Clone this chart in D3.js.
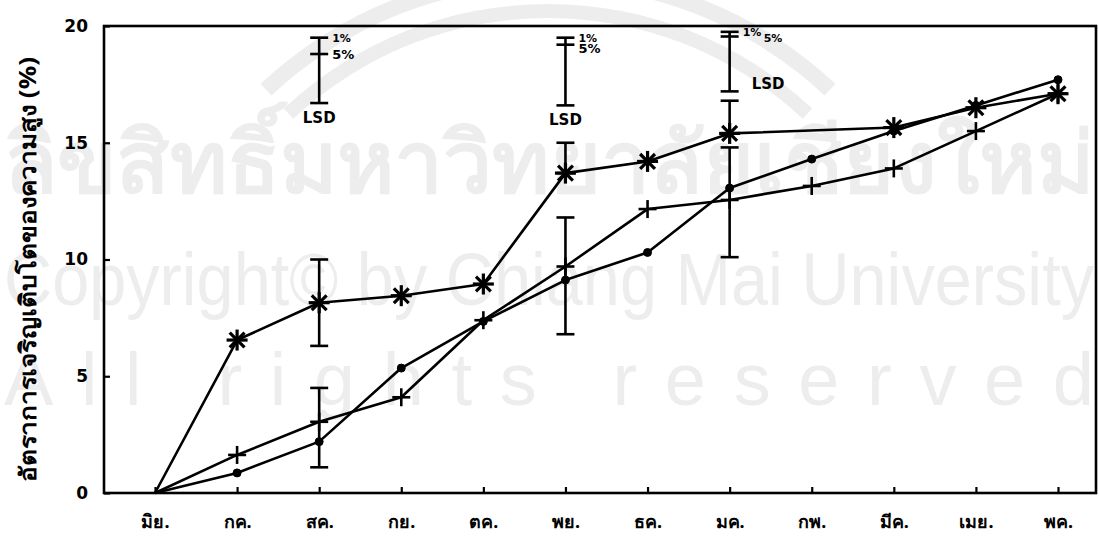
<!DOCTYPE html>
<html>
<head>
<meta charset="utf-8">
<script src="https://cdn.jsdelivr.net/npm/d3@7"></script>
<style>
  html, body { margin: 0; padding: 0; background: #fff; }
  svg { display: block; }
</style>
</head>
<body>
<svg id="chart" width="1099" height="545"></svg>
<script>
// Months (June to May)
const months = ["มิย.", "กค.", "สค.", "กย.", "ตค.", "พย.", "ธค.", "มค.", "กพ.", "มีค.", "เมย.", "พค."];

// Height growth rate (%) for the three treatments
const seriesStar = [0, 6.55, 8.15, 8.45, 8.95, 13.7, 14.2, 15.4, null, 15.65, 16.5, 17.1];
const seriesDot  = [0, 0.86, 2.2, 5.35, 7.35, 9.12, 10.3, 13.06, 14.3, 15.5, 16.6, 17.7];
const seriesPlus = [0, 1.63, 3.05, 4.1, 7.4, 9.7, 12.16, 12.55, 13.15, 13.9, 15.5, 17.1];

// Error bars drawn on the curves (month, low, high)
const errMonth = ["สค.", "สค.", "พย.", "พย.", "มค.", "มค."];
const errLow   = [6.3, 1.1, 13.7, 6.8, 15.4, 10.1];
const errHigh  = [10.0, 4.5, 15.0, 11.8, 16.8, 14.8];

// LSD indicators (month, bar bottom, 5% cap, 1% cap)
const lsdMonth  = ["สค.", "พย.", "มค."];
const lsdBottom = [16.7, 16.6, 17.2];
const lsd5      = [18.8, 19.2, 19.55];
const lsd1      = [19.5, 19.5, 19.75];

const yTicks = [0, 5, 10, 15, 20];
const yTitle = "อัตราการเจริญเติบโตของความสูง (%)";

const svg = d3.select("#chart");
const plot = { left: 104, right: 1096, top: 26, bottom: 493 };

// Faint background watermark
const wm = svg.append("g").attr("fill", "#ededed");
[[372, 386], [404, 420]].forEach(([r0, r1]) => {
  wm.append("path")
    .attr("d", d3.arc()({ innerRadius: r0, outerRadius: r1, startAngle: -Math.PI * 0.24, endAngle: Math.PI * 0.24 }))
    .attr("transform", "translate(548,390)");
});
wm.append("text").attr("x", 4).attr("y", 192).attr("font-size", 84).attr("font-weight", "bold")
  .attr("textLength", 1090).attr("lengthAdjust", "spacingAndGlyphs")
  .attr("font-family", "Noto Sans, DejaVu Sans, sans-serif").text("ลิขสิทธิ์มหาวิทยาลัยเชียงใหม่");
wm.append("text").attr("x", 4).attr("y", 305).attr("font-size", 74)
  .attr("textLength", 1090).attr("lengthAdjust", "spacingAndGlyphs")
  .attr("font-family", "Liberation Sans, Arial, sans-serif").text("Copyright© by Chiang Mai University");
wm.append("text").attr("x", 4).attr("y", 405).attr("font-size", 74)
  .attr("textLength", 1090).attr("lengthAdjust", "spacing")
  .attr("font-family", "Liberation Sans, Arial, sans-serif").text("All rights reserved");

const x = d3.scalePoint().domain(months).range([155, 1058]);
const y = d3.scaleLinear().domain([0, 20]).range([plot.bottom, plot.top]);

const ink = "#000";

// Frame
svg.append("rect")
  .attr("x", plot.left).attr("y", plot.top)
  .attr("width", plot.right - plot.left).attr("height", plot.bottom - plot.top)
  .attr("fill", "none").attr("stroke", ink).attr("stroke-width", 2.6);

// Y axis ticks (inward) and labels
const yAxis = d3.axisLeft(y).tickValues(yTicks).tickSize(-6).tickPadding(16).tickFormat(d3.format("d"));
const gy = svg.append("g").attr("transform", `translate(${plot.left},0)`).call(yAxis);
gy.select(".domain").remove();
gy.selectAll(".tick line").attr("stroke", ink).attr("stroke-width", 2.2);
gy.selectAll(".tick text")
  .attr("fill", ink).attr("font-size", 17).attr("font-weight", "bold")
  .attr("font-family", "DejaVu Sans, sans-serif");

// X axis ticks (inward) and month labels
const xAxis = d3.axisBottom(x).tickSize(-6).tickPadding(22);
const gx = svg.append("g").attr("transform", `translate(0,${plot.bottom})`).call(xAxis);
gx.select(".domain").remove();
gx.selectAll(".tick line").attr("stroke", ink).attr("stroke-width", 2.2);
gx.selectAll(".tick text")
  .attr("fill", ink).attr("font-size", 18).attr("font-weight", "bold")
  .attr("font-family", "Noto Sans, DejaVu Sans, sans-serif");

// Y axis title
svg.append("text")
  .attr("transform", `translate(36,${(plot.top + plot.bottom) / 2 + 10}) rotate(-90)`)
  .attr("text-anchor", "middle")
  .attr("font-size", 23).attr("font-weight", "bold")
  .attr("textLength", 425).attr("lengthAdjust", "spacingAndGlyphs")
  .attr("font-family", "Noto Sans, DejaVu Sans, sans-serif")
  .attr("fill", ink)
  .text(yTitle);

// Lines
const line = d3.line().x(d => x(d.m)).y(d => y(d.v));
function pts(vals) {
  return months.map((m, i) => ({ m, v: vals[i] })).filter(d => d.v !== null);
}
[seriesStar, seriesDot, seriesPlus].forEach(vals => {
  svg.append("path").datum(pts(vals))
    .attr("d", line).attr("fill", "none")
    .attr("stroke", ink).attr("stroke-width", 2.6).attr("stroke-linejoin", "round");
});

// Error bars
const capW = 9;
const eg = svg.append("g").attr("stroke", ink).attr("stroke-width", 2.6);
errMonth.forEach((m, i) => {
  const cx = x(m);
  eg.append("line").attr("x1", cx).attr("x2", cx).attr("y1", y(errLow[i])).attr("y2", y(errHigh[i]));
  [errLow[i], errHigh[i]].forEach(v => {
    eg.append("line").attr("x1", cx - capW).attr("x2", cx + capW).attr("y1", y(v)).attr("y2", y(v));
  });
});

// Markers
const mk = svg.append("g").attr("stroke", ink).attr("fill", ink);
pts(seriesDot).slice(1).forEach(d => {
  mk.append("circle").attr("cx", x(d.m)).attr("cy", y(d.v)).attr("r", 4);
});
pts(seriesPlus).slice(1).forEach(d => {
  const cx = x(d.m), cy = y(d.v), r = 9;
  mk.append("line").attr("x1", cx - r).attr("x2", cx + r).attr("y1", cy).attr("y2", cy).attr("stroke-width", 2.6);
  mk.append("line").attr("x1", cx).attr("x2", cx).attr("y1", cy - r).attr("y2", cy + r).attr("stroke-width", 2.6);
});
pts(seriesStar).slice(1).forEach(d => {
  const cx = x(d.m), cy = y(d.v), r = 10.5;
  for (let k = 0; k < 4; k++) {
    const a = k * Math.PI / 4;
    mk.append("line")
      .attr("x1", cx - r * Math.cos(a)).attr("y1", cy - r * Math.sin(a))
      .attr("x2", cx + r * Math.cos(a)).attr("y2", cy + r * Math.sin(a))
      .attr("stroke-width", 3.2);
  }
});

// LSD indicators
const lg = svg.append("g").attr("stroke", ink).attr("stroke-width", 2.6);
const lt = svg.append("g").attr("fill", ink).attr("font-weight", "bold")
  .attr("font-family", "DejaVu Sans, sans-serif");
lsdMonth.forEach((m, i) => {
  const cx = x(m);
  lg.append("line").attr("x1", cx).attr("x2", cx).attr("y1", y(lsdBottom[i])).attr("y2", y(lsd1[i]));
  [lsdBottom[i], lsd5[i], lsd1[i]].forEach(v => {
    lg.append("line").attr("x1", cx - 9).attr("x2", cx + 9).attr("y1", y(v)).attr("y2", y(v));
  });
  if (i < 2) {
    lt.append("text").attr("x", cx + 13).attr("y", y(lsd1[i]) + 4).attr("font-size", 11).text("1%");
    lt.append("text").attr("x", cx + 13).attr("y", y(lsd5[i]) + (i === 0 ? 5 : 8)).attr("font-size", 13).text("5%");
    lt.append("text").attr("x", cx).attr("y", y(lsdBottom[i]) + 20).attr("font-size", 15)
      .attr("text-anchor", "middle").text("LSD");
  } else {
    lt.append("text").attr("x", cx + 13).attr("y", y(lsd1[i]) + 4).attr("font-size", 11).text("1%");
    lt.append("text").attr("x", cx + 34).attr("y", y(lsd1[i]) + 10).attr("font-size", 11).text("5%");
    lt.append("text").attr("x", cx + 22).attr("y", y(lsdBottom[i]) - 2).attr("font-size", 15).text("LSD");
  }
});
</script>
</body>
</html>
